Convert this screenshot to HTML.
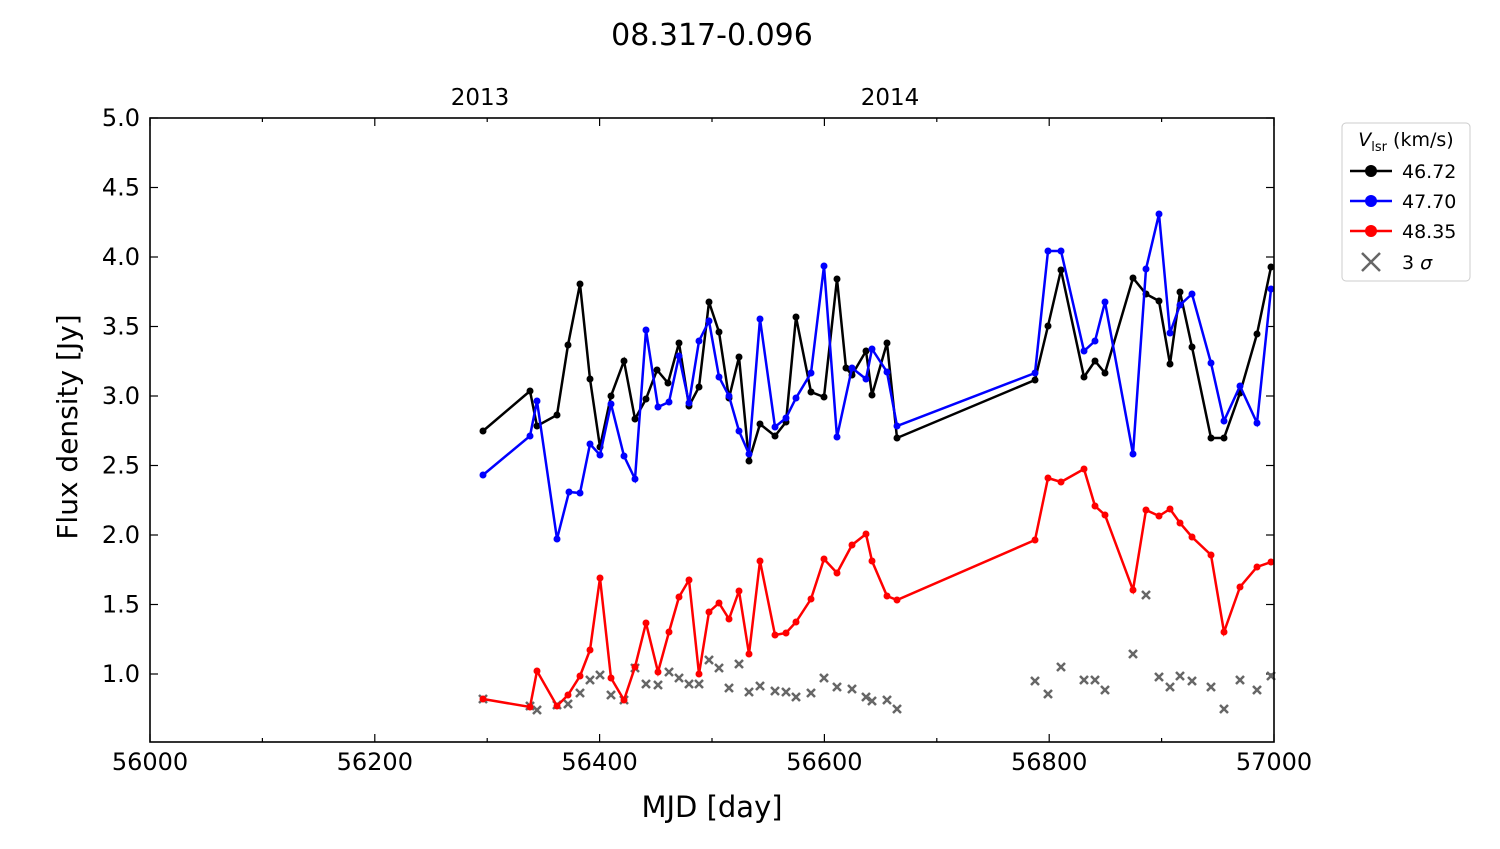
<!DOCTYPE html>
<html><head><meta charset="utf-8"><style>
body{margin:0;background:#fff}
svg text{font-family:"DejaVu Sans","Liberation Sans",sans-serif;fill:#000}
</style></head><body>
<svg id="s" width="1500" height="844" xmlns="http://www.w3.org/2000/svg">
<text x="712" y="45" font-size="30" text-anchor="middle">08.317-0.096</text>
<text x="712" y="817" font-size="29" text-anchor="middle">MJD [day]</text>
<text transform="translate(77,427) rotate(-90)" font-size="28" text-anchor="middle">Flux density [Jy]</text>
<text x="480" y="105" font-size="23" text-anchor="middle">2013</text>
<text x="890" y="105" font-size="23" text-anchor="middle">2014</text>
<g id="ax"></g>
<rect x="150" y="118" width="1124" height="624" fill="none" stroke="#000" stroke-width="1.6"/>
<g transform="translate(1342,123)">
<rect x="0" y="0" width="128" height="158" rx="4" fill="#fff" stroke="#ccc"/>
<text x="64" y="23" font-size="19" text-anchor="middle"><tspan font-style="italic">V</tspan><tspan font-size="13" dy="5">lsr</tspan><tspan dy="-5"> (km/s)</tspan></text>
<line x1="8" x2="50" y1="48" y2="48" stroke="#000" stroke-width="2.5"/><circle cx="29" cy="48" r="6"/><text x="60" y="55" font-size="19">46.72</text>
<line x1="8" x2="50" y1="78" y2="78" stroke="#00f" stroke-width="2.5"/><circle cx="29" cy="78" r="6" fill="#00f"/><text x="60" y="85" font-size="19">47.70</text>
<line x1="8" x2="50" y1="108" y2="108" stroke="#f00" stroke-width="2.5"/><circle cx="29" cy="108" r="6" fill="#f00"/><text x="60" y="115" font-size="19">48.35</text>
<path d="M20,130l18,18M38,130l-18,18" stroke="#666" stroke-width="2.5"/><text x="60" y="146" font-size="19">3 <tspan font-style="italic">σ</tspan></text>
</g>
</svg>
<script>
const ns="http://www.w3.org/2000/svg",ax=document.getElementById("ax");
function el(t,a,txt){const e=document.createElementNS(ns,t);for(const k in a)e.setAttribute(k,a[k]);if(txt)e.textContent=txt;ax.appendChild(e);return e;}
for(let m=56000;m<=57000;m+=100){const x=150+(m-56000)*1.124;const maj=m%200==0;
el("line",{x1:x,x2:x,y1:742,y2:742-(maj?8:4),stroke:"#000","stroke-width":1.2});
el("line",{x1:x,x2:x,y1:118,y2:118+(maj?8:4),stroke:"#000","stroke-width":1.2});
if(maj)el("text",{x:x,y:770,"font-size":24,"text-anchor":"middle"},""+m);}
for(let v=1;v<=5.001;v+=0.5){const y=674-(v-1)*139;
el("line",{x1:150,x2:158,y1:y,y2:y,stroke:"#000","stroke-width":1.2});
el("line",{x1:1274,x2:1266,y1:y,y2:y,stroke:"#000","stroke-width":1.2});
el("text",{x:140,y:y+8,"font-size":24,"text-anchor":"end"},v.toFixed(1));}
const X=[483,530,537,557,568,580,590,600,611,624,635,646,658,669,679,689,699,709,719,729,739,749,760,775,786,796,811,824,837,852,866,872,887,897,1035,1048,1061,1084,1095,1105,1133,1146,1159,1170,1180,1192,1211,1224,1240,1257,1271];
const K=[[483,431],[530,391],[537,426],[557,415],[568,345],[580,284],[590,379],[600,447],[611,396],[624,361],[635,419],[646,399],[657,370],[668,383],[679,343],[689,406],[699,387],[709,302],[719,332],[729,398],[739,357],[749,461],[760,424],[775,436],[786,422],[796,317],[811,392],[824,397],[837,279],[846,368],[852,375],[866,351],[872,395],[887,343],[897,438],[1035,380],[1048,326],[1061,270],[1084,377],[1095,361],[1105,373],[1133,278],[1146,294],[1159,301],[1170,364],[1180,292],[1192,347],[1211,438],[1224,438],[1240,393],[1257,334],[1271,267]];
const B=[[483,475],[530,436],[537,401],[557,539],[569,492],[580,493],[590,444],[600,455],[611,404],[624,456],[635,479],[646,330],[658,407],[669,402],[679,356],[689,403],[699,341],[709,321],[719,377],[729,396],[739,431],[749,454],[760,319],[775,427],[786,418],[796,398],[811,373],[824,266],[837,437],[852,368],[866,379],[872,349],[887,372],[897,426],[1035,373],[1048,251],[1061,251],[1084,351],[1095,341],[1105,302],[1133,454],[1146,269],[1159,214],[1170,333],[1180,305],[1192,294],[1211,363],[1224,421],[1240,386],[1257,423],[1271,289]];
const R=[[483,699],[530,707],[537,671],[557,706],[568,695],[580,676],[590,650],[600,578],[611,678],[624,700],[635,667],[646,623],[658,672],[669,632],[679,597],[689,580],[699,674],[709,612],[719,603],[729,619],[739,591],[749,654],[760,561],[775,635],[786,633],[796,622],[811,599],[824,559],[837,573],[852,545],[866,534],[872,561],[887,596],[897,600],[1035,540],[1048,478],[1061,482],[1084,469],[1095,506],[1105,515],[1133,590],[1146,510],[1159,516],[1170,509],[1180,523],[1192,537],[1211,555],[1224,632],[1240,587],[1257,567],[1271,562]];
const G=[699,706,710,705,704,693,680,675,695,700,668,684,685,672,678,684,684,660,668,688,664,692,686,691,692,697,693,678,687,689,697,701,700,709,681,694,667,680,680,690,654,595,677,687,676,681,687,709,680,690,676];
G.forEach((y,i)=>{const x=X[i];el("path",{d:`M${x-4},${y-4}l8,8M${x+4},${y-4}l-8,8`,stroke:"#666","stroke-width":2.5});});
[[K,"#000"],[B,"#00f"],[R,"#f00"]].forEach(([P,c])=>{
el("polyline",{points:P.map(p=>p.join(",")).join(" "),fill:"none",stroke:c,"stroke-width":2.5});
P.forEach(p=>el("circle",{cx:p[0],cy:p[1],r:3.5,fill:c}));});
</script>
</body></html>
